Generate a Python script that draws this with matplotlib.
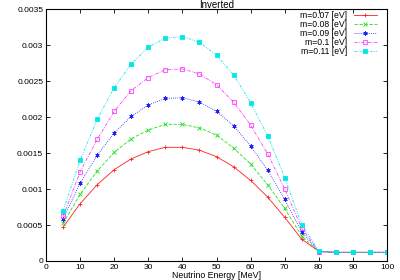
import matplotlib
matplotlib.use("Agg")
import matplotlib.pyplot as plt
from matplotlib.ticker import FuncFormatter

plt.rcParams['font.family'] = ['Liberation Sans', 'DejaVu Sans']

energy = [5, 10, 15, 20, 25, 30, 35, 40, 45, 50, 55, 60, 65, 70, 75, 80, 85, 90, 95, 100]

m007 = [0.000468, 0.000795, 0.00106, 0.00127, 0.00142, 0.00152, 0.00158, 0.00158, 0.00154, 0.00145,
        0.00131, 0.00112, 0.00089, 0.000606, 0.000303, 0.000134, 0.00012, 0.00012, 0.00012, 0.00012]
m008 = [0.000523, 0.000927, 0.00125, 0.00151, 0.0017, 0.00182, 0.0019, 0.0019, 0.00185, 0.00175,
        0.00157, 0.00135, 0.00106, 0.00073, 0.000344, 0.00013, 0.00012, 0.00012, 0.00012, 0.00012]
m009 = [0.000583, 0.00108, 0.00147, 0.00178, 0.00201, 0.00217, 0.00226, 0.00227, 0.00221, 0.00208,
        0.00188, 0.0016, 0.00126, 0.000858, 0.0004, 0.00013, 0.00012, 0.00012, 0.00012, 0.00012]
m010 = [0.00062, 0.00124, 0.00169, 0.00208, 0.00237, 0.00255, 0.00266, 0.00267, 0.0026, 0.00245,
        0.00221, 0.00189, 0.00149, 0.001, 0.000455, 0.00013, 0.00012, 0.00012, 0.00012, 0.00012]
m011 = [0.000698, 0.0014, 0.00197, 0.00241, 0.00274, 0.00297, 0.0031, 0.00312, 0.00304, 0.00286,
        0.00259, 0.0022, 0.00174, 0.00116, 0.000505, 0.00014, 0.00012, 0.00012, 0.00012, 0.00012]

labels = ["m=0.07 [eV]", "m=0.08 [eV]", "m=0.09 [eV]", "m=0.1 [eV]", "m=0.11 [eV]"]
x_ticks = [0, 10, 20, 30, 40, 50, 60, 70, 80, 90, 100]
y_ticks = [0, 0.0005, 0.001, 0.0015, 0.002, 0.0025, 0.003, 0.0035]

series = [m007, m008, m009, m010, m011]
colors = ['#ff2020', '#20e020', '#2020ff', '#ff40ff', '#00e8e8']
markers = ['+', 'x', (6, 2, 0), 's', 's']
mfcs = [None, None, '#2020ff', 'none', '#00e8e8']
styles = ['-', (0, (4, 2)), (0, (1, 1.5)), (0, (4, 1.5, 1, 1.5)), (0, (3, 1.5, 1, 1.5, 1, 1.5))]
msizes = [3.5, 3.5, 3, 3.2, 3.2]

fig = plt.figure(figsize=(4, 2.8), dpi=100)
ax = fig.add_axes([0.115, 0.068, 0.8525, 0.899])

for ys, c, mk, mf, ls, ms, lb in zip(series, colors, markers, mfcs, styles, msizes, labels):
    kw = dict(color=c, marker=mk, linestyle=ls, linewidth=0.6, markersize=ms,
              markeredgewidth=0.6, label=lb)
    if mf is not None:
        kw['markerfacecolor'] = mf
    ax.plot(energy, ys, **kw)

ax.set_xlim(0, 100)
ax.set_ylim(0, 0.0035)
ax.set_xticks(x_ticks)
ax.set_yticks(y_ticks)
ax.yaxis.set_major_formatter(FuncFormatter(lambda v, p: '%g' % v))
ax.tick_params(direction='in', top=True, right=True, labelsize=6, length=3, width=0.6)
ax.tick_params(axis='x', pad=2)
ax.tick_params(axis='y', pad=2)
for s in ax.spines.values():
    s.set_linewidth(0.8)

ax.set_title("Inverted", fontsize=7, pad=1)
ax.set_xlabel("Neutrino Energy [MeV]", fontsize=6.3, labelpad=0)

ax.legend(loc='upper right', frameon=False, markerfirst=False, fontsize=6.2,
          labelspacing=0.0, handlelength=2.7, handletextpad=0.8,
          borderaxespad=0, borderpad=0,
          bbox_to_anchor=(377 / 400, 1 - 11 / 280), bbox_transform=fig.transFigure)

fig.savefig("out.png", dpi=100)
